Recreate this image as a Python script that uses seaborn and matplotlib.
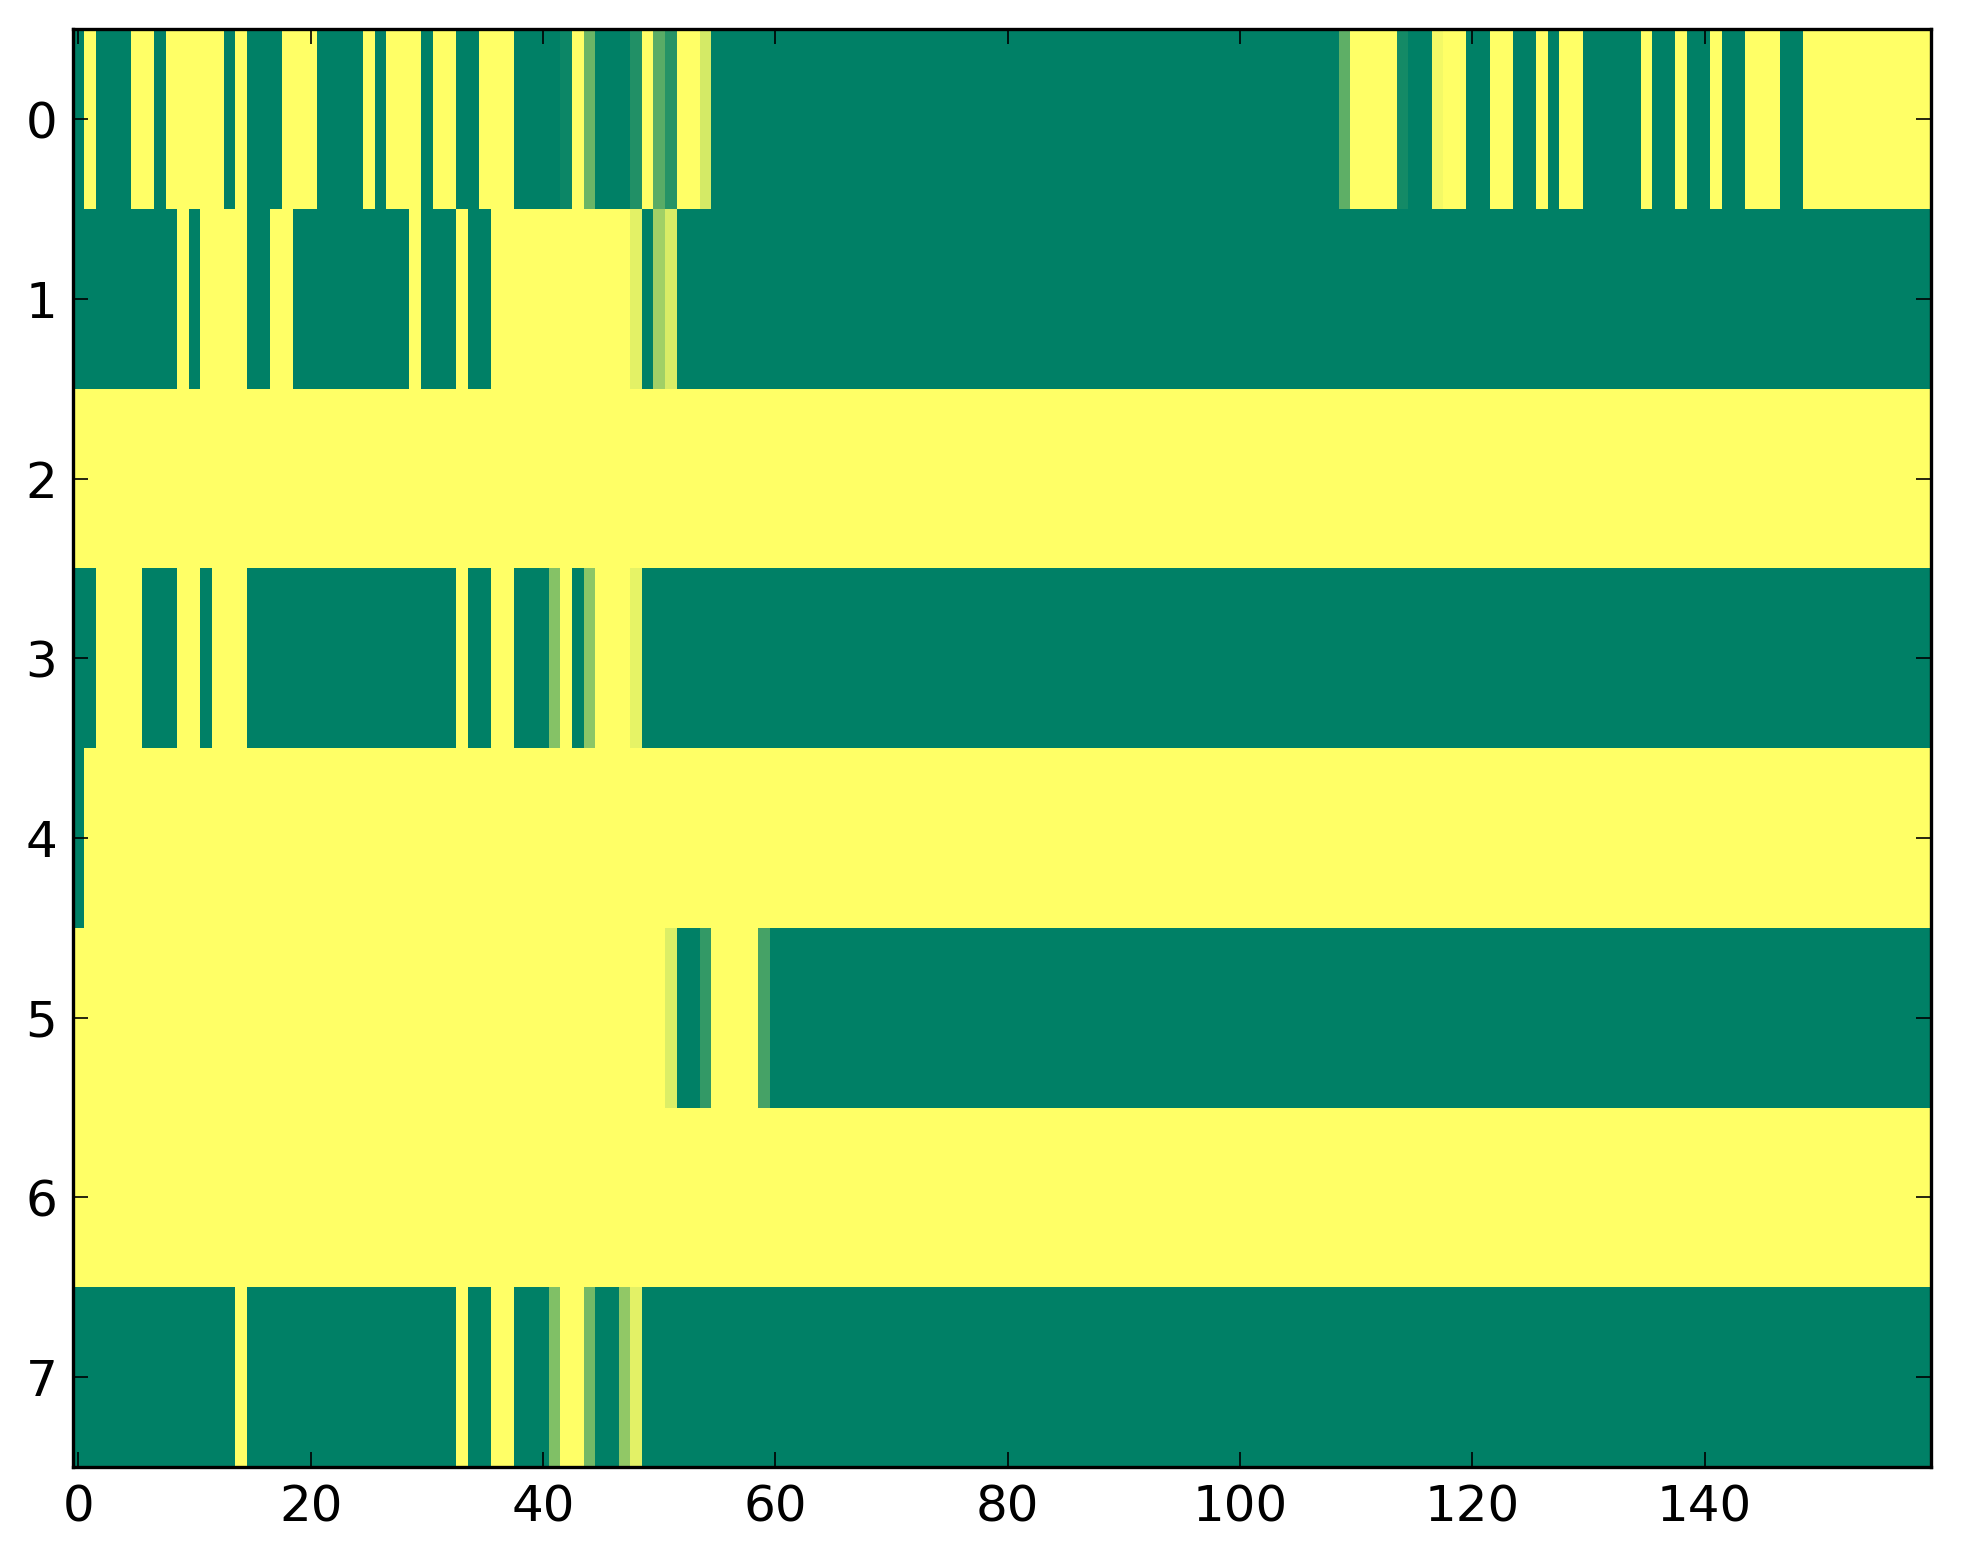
import numpy as np
import pandas as pd
import matplotlib
matplotlib.use("Agg")
import matplotlib.pyplot as plt
import seaborn as sns

# ---- data: each row as runs of (value, number of cells) ----
row0_runs = [(0, 1), (1, 1), (0, 3), (1, 2), (0, 1), (1, 5), (0, 1), (1, 1),
             (0, 3), (1, 3), (0, 4), (1, 1), (0, 1), (1, 3), (0, 1), (1, 2),
             (0, 2), (1, 3), (0, 4), (0.05, 1), (1, 1), (0.42, 1), (0, 3),
             (0.13, 1), (1, 1), (0.35, 1), (0.15, 1), (1, 2), (0.83, 1),
             (0, 54), (0.37, 1), (1, 4), (0.08, 1), (0, 2), (0.95, 1), (1, 2),
             (0, 2), (1, 2), (0, 2), (1, 1), (0, 1), (1, 2), (0, 5), (1, 1),
             (0, 2), (1, 1), (0, 2), (1, 1), (0, 2), (1, 3), (0, 2), (1, 11)]
row1_runs = [(0, 9), (1, 1), (0, 1), (1, 4), (0, 2), (1, 2), (0, 10), (1, 1),
             (0, 3), (1, 1), (0, 2), (1, 12), (0.89, 1), (0, 1), (0.63, 1),
             (0.85, 1), (0, 108)]
row2_runs = [(1, 160)]
row3_runs = [(0, 2), (1, 4), (0, 3), (1, 2), (0, 1), (1, 3), (0, 18), (1, 1),
             (0, 2), (1, 2), (0, 3), (0.52, 1), (1, 1), (0, 1), (0.55, 1),
             (1, 3), (0.9, 1), (0, 111)]
row4_runs = [(0, 1), (1, 159)]
row5_runs = [(1, 51), (0.86, 1), (0, 2), (0.2, 1), (1, 4), (0.27, 1), (0, 100)]
row6_runs = [(1, 160)]
row7_runs = [(0, 14), (1, 1), (0, 18), (1, 1), (0, 2), (1, 2), (0, 3), (0.5, 1),
             (1, 2), (0.45, 1), (0, 2), (0.57, 1), (0.89, 1), (0, 111)]

x_ticks = [0, 20, 40, 60, 80, 100, 120, 140]
y_ticks = [0, 1, 2, 3, 4, 5, 6, 7]


def expand(runs):
    vals = [v for v, n in runs]
    counts = [n for v, n in runs]
    return np.repeat(vals, counts)


all_runs = [row0_runs, row1_runs, row2_runs, row3_runs,
            row4_runs, row5_runs, row6_runs, row7_runs]
grid = pd.DataFrame(np.vstack([expand(r) for r in all_runs]))

# ---- plot ----
sns.set_style("white")
plt.rcParams["font.family"] = ["DejaVu Sans"]
plt.rcParams["axes.axisbelow"] = False

fig = plt.figure(figsize=(19.63, 15.64), dpi=100)
ax = fig.add_axes([0.037, 0.062, 0.9467, 0.9193])

sns.heatmap(grid, cmap="summer", vmin=0, vmax=1, cbar=False,
            xticklabels=False, yticklabels=False, ax=ax)
ax.set_axisbelow(False)

ax.set_xticks(np.array(x_ticks) + 0.5)
ax.set_xticklabels([str(t) for t in x_ticks])
ax.set_yticks(np.array(y_ticks) + 0.5)
ax.set_yticklabels([str(t) for t in y_ticks], rotation=0)

for s in ax.spines.values():
    s.set_visible(True)
    s.set_color("black")
    s.set_linewidth(2.4)
    s.set_zorder(3)

ax.tick_params(axis="both", which="major", direction="in", length=11,
               width=1.2, color="black", labelcolor="black", labelsize=36,
               top=True, right=True, bottom=True, left=True)
ax.tick_params(axis="x", pad=12)
ax.tick_params(axis="y", pad=11)
ax.set_xlabel("")
ax.set_ylabel("")

fig.savefig("out.png", dpi=100)
